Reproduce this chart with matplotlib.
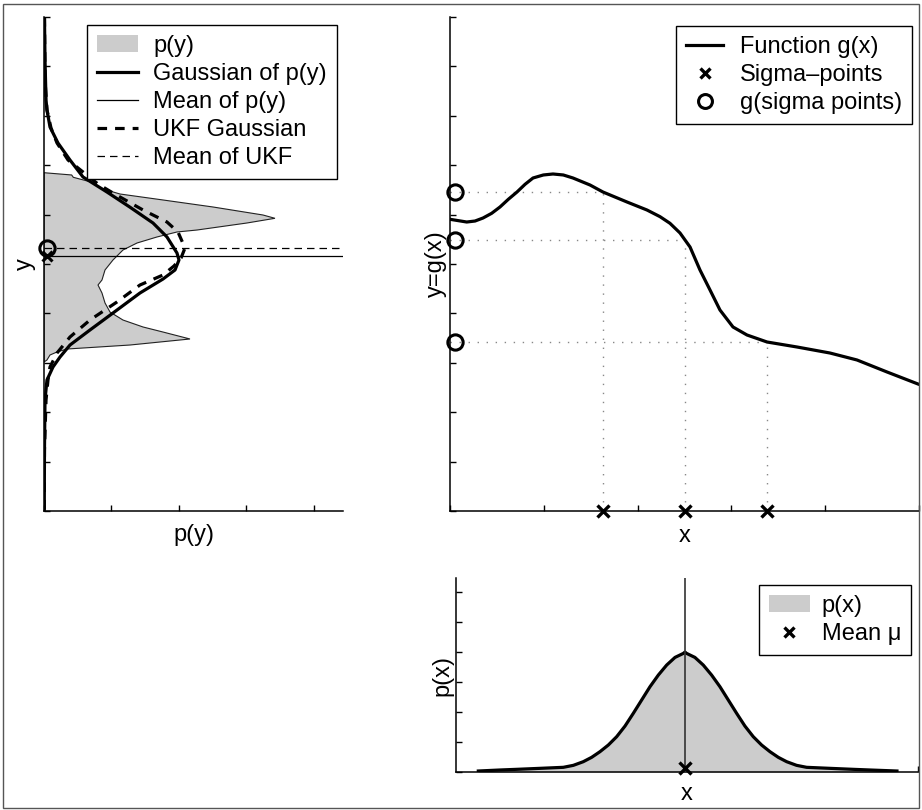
import matplotlib
matplotlib.use("Agg")
import matplotlib.pyplot as plt
from matplotlib.lines import Line2D
from matplotlib.patches import Patch, Rectangle

plt.rcParams['font.family'] = ['Liberation Sans', 'DejaVu Sans']
plt.rcParams['font.size'] = 17

# ---------------- data ----------------
# g(x) function (top right)
g_x = [0.000, 0.178, 0.267, 0.352, 0.444, 0.533, 0.622, 0.714, 0.800, 0.885, 0.995,
       1.098, 1.208, 1.311, 1.493, 1.631, 1.887, 2.100, 2.239, 2.345, 2.452, 2.559,
       2.665, 2.772, 2.878, 3.017, 3.166, 3.380, 3.699, 4.051, 4.339, 4.659, 4.989]
g_y = [5.905, 5.850, 5.870, 5.931, 6.026, 6.154, 6.310, 6.457, 6.613, 6.741, 6.802,
       6.822, 6.802, 6.741, 6.599, 6.457, 6.255, 6.093, 5.958, 5.824, 5.628, 5.344,
       4.879, 4.474, 4.069, 3.725, 3.563, 3.421, 3.320, 3.198, 3.057, 2.814, 2.571]

sigma_x = [1.631, 2.505, 3.380]
sigma_g = [6.457, 5.486, 3.421]

# p(y) histogram outline (left), x = density, y = value
py_dens = [0.000, 0.410, 0.434, 0.681, 0.874, 1.126, 1.763, 2.504, 3.244, 3.422,
           3.007, 2.267, 1.970, 1.674, 1.378, 1.170, 1.022, 0.904, 0.859, 0.800,
           0.859, 0.904, 0.978, 1.170, 1.467, 1.763, 2.163, 1.274, 0.341, 0.193,
           0.089, 0.044, 0.000]
py_val = [6.848, 6.802, 6.755, 6.666, 6.518, 6.417, 6.296, 6.154, 5.992, 5.925,
          5.830, 5.688, 5.648, 5.547, 5.425, 5.283, 5.081, 4.879, 4.676, 4.575,
          4.413, 4.211, 4.028, 3.866, 3.725, 3.623, 3.482, 3.360, 3.279, 3.219,
          3.158, 3.057, 3.016]

# Gaussian fitted to p(y)
gauss_dens = [0.007, 0.015, 0.030, 0.044, 0.089, 0.207, 0.385, 0.578, 0.933, 1.274,
              1.615, 1.822, 1.970, 2.000, 1.941, 1.763, 1.422, 1.022, 0.681, 0.385,
              0.237, 0.133, 0.044, 0.015, 0.007, 0.004]
gauss_val = [10.0, 9.13, 8.32, 8.117, 7.773, 7.449, 7.105, 6.761, 6.457, 6.150,
             5.830, 5.547, 5.223, 5.081, 4.879, 4.696, 4.413, 4.008, 3.664, 3.360,
             3.117, 2.915, 2.652, 2.247, 1.235, 0.0]

# UKF Gaussian
ukf_dens = [0.007, 0.015, 0.044, 0.104, 0.193, 0.356, 0.578, 0.800, 1.022, 1.467,
            1.822, 1.985, 2.089, 2.030, 1.926, 1.763, 1.422, 1.081, 0.681, 0.385,
            0.193, 0.089, 0.059, 0.030, 0.007, 0.004]
ukf_val = [10.0, 8.72, 8.117, 7.753, 7.449, 7.105, 6.862, 6.619, 6.437, 6.093,
           5.850, 5.648, 5.324, 5.121, 4.960, 4.777, 4.575, 4.231, 3.866, 3.522,
           3.198, 2.915, 2.652, 2.247, 1.235, 0.0]

mean_py = 5.16
mean_ukf = 5.32

# p(x) (bottom right)
px_x = [0.302, 0.533, 0.711, 0.959, 1.208, 1.315, 1.421, 1.510, 1.599, 1.688, 1.777,
        1.866, 1.954, 2.043, 2.132, 2.221, 2.310, 2.399, 2.488, 2.505,
        2.522, 2.611, 2.700, 2.789, 2.878, 2.967, 3.056, 3.144, 3.233, 3.322, 3.411,
        3.500, 3.589, 3.695, 3.802, 4.051, 4.299, 4.477, 4.765]
px_y = [0.033, 0.067, 0.089, 0.122, 0.156, 0.222, 0.344, 0.489, 0.678, 0.900, 1.178,
        1.533, 1.956, 2.400, 2.844, 3.233, 3.567, 3.822, 3.956, 4.000,
        3.956, 3.822, 3.567, 3.233, 2.844, 2.400, 1.956, 1.533, 1.178, 0.900, 0.678,
        0.489, 0.344, 0.222, 0.156, 0.122, 0.089, 0.067, 0.033]
mean_x = 2.505

# ---------------- figure ----------------
W, H = 922, 810
fig = plt.figure(figsize=(W / 100, H / 100), dpi=100)

def axrect(x0, y0, x1, y1):
    return [x0 / W, (H - y1) / H, (x1 - x0) / W, (y1 - y0) / H]

def style(ax):
    ax.spines['top'].set_visible(False)
    ax.spines['right'].set_visible(False)
    for s in ('left', 'bottom'):
        ax.spines[s].set_linewidth(1.1)
    ax.tick_params(direction='in', length=4, width=1, labelbottom=False, labelleft=False)

GRAY = '#cccccc'
LEG = dict(loc='upper right', borderaxespad=0, fancybox=False, framealpha=1,
           edgecolor='black', labelspacing=0.26, borderpad=0.42, numpoints=1, fontsize=17)

# Left axes: p(y)
axL = fig.add_axes(axrect(44, 17, 343, 511))
style(axL)
axL.fill(py_dens, py_val, facecolor=GRAY, edgecolor='#222222', lw=0.8, zorder=1)
axL.plot(gauss_dens, gauss_val, color='black', lw=2.3, zorder=3)
axL.plot(ukf_dens, ukf_val, color='black', lw=2.3, ls=(0, (3, 2.5)), zorder=3)
axL.axhline(mean_py, color='black', lw=0.9, zorder=2)
axL.axhline(mean_ukf, color='black', lw=0.9, ls=(0, (6, 4)), zorder=2)
axL.plot([0.045], [mean_ukf], 'o', mfc='none', mec='black', mew=2.2, ms=11, clip_on=False, zorder=5)
axL.plot([0.045], [mean_py], 'x', color='black', mew=2.2, ms=7, clip_on=False, zorder=5)
axL.set_xlim(0, 4.43)
axL.set_ylim(0, 10)
axL.set_xticks([0, 1, 2, 3, 4])
axL.set_yticks(range(0, 11))
axL.set_xlabel('p(y)', labelpad=9)
axL.set_ylabel('y', labelpad=6)
hL = [Patch(facecolor=GRAY, edgecolor='none'),
      Line2D([], [], color='black', lw=2.3),
      Line2D([], [], color='black', lw=0.9),
      Line2D([], [], color='black', lw=2.3, ls=(0, (3, 2.5))),
      Line2D([], [], color='black', lw=0.9, ls=(0, (6, 4)))]
legL = axL.legend(hL, ['p(y)', 'Gaussian of p(y)', 'Mean of p(y)', 'UKF Gaussian', 'Mean of UKF'],
                  bbox_to_anchor=(0.980, 0.984), handlelength=1.75, handleheight=0.75,
                  handletextpad=0.65, **LEG)
legL.get_frame().set_linewidth(1)

# Top right: g(x)
axT = fig.add_axes(axrect(450, 17, 919, 511))
style(axT)
axT.plot(g_x, g_y, color='black', lw=2.3, zorder=3)
for sx, sg in zip(sigma_x, sigma_g):
    axT.plot([0, sx], [sg, sg], color='#888888', lw=1, ls=(0, (1, 5.5)), zorder=1)
    axT.plot([sx, sx], [0, sg], color='#888888', lw=1, ls=(0, (1, 5.5)), zorder=1)
axT.plot(sigma_x, [0] * len(sigma_x), 'x', color='black', mew=2.4, ms=8, clip_on=False, zorder=5)
axT.plot([0.05] * len(sigma_g), sigma_g, 'o', mfc='none', mec='black', mew=2.2, ms=11,
         clip_on=False, zorder=5)
axT.set_xlim(0, 5)
axT.set_ylim(0, 10)
axT.set_xticks(range(0, 6))
axT.set_yticks(range(0, 11))
axT.set_xlabel('x', labelpad=10)
axT.set_ylabel('y=g(x)', labelpad=2)
hT = [Line2D([], [], color='black', lw=2.3),
      Line2D([], [], color='black', ls='none', marker='x', mew=2.4, ms=7),
      Line2D([], [], color='black', ls='none', marker='o', mfc='none', mew=2.2, ms=10)]
legT = axT.legend(hT, ['Function g(x)', 'Sigma\u2013points', 'g(sigma points)'],
                  bbox_to_anchor=(0.985, 0.982), handlelength=1.6, handletextpad=0.7, **LEG)
legT.get_frame().set_linewidth(1)

# Bottom right: p(x)
axB = fig.add_axes(axrect(456, 578, 918, 772))
style(axB)
axB.fill_between(px_x, 0, px_y, color=GRAY, lw=0, zorder=1)
axB.plot(px_x, px_y, color='black', lw=2.3, zorder=3)
axB.axvline(mean_x, color='#333333', lw=1.2, zorder=4)
axB.plot([mean_x], [0.13], 'x', color='black', mew=2.4, ms=8, clip_on=False, zorder=5)
axB.set_xlim((456 - 450) / 93.8, (918 - 450) / 93.8)
axB.set_ylim(0, 6.47)
axB.set_xticks([(918 - 450) / 93.8])
axB.set_yticks(range(0, 7))
axB.set_xlabel('x', labelpad=8)
axB.set_ylabel('p(x)', labelpad=2)
hB = [Patch(facecolor=GRAY, edgecolor='none'),
      Line2D([], [], color='black', ls='none', marker='x', mew=2.4, ms=7)]
legB = axB.legend(hB, ['p(x)', 'Mean \u03bc'], bbox_to_anchor=(0.985, 0.964),
                  handlelength=1.75, handleheight=0.75, handletextpad=0.5, **LEG)
legB.get_frame().set_linewidth(1)

# figure border
fig.patches.append(Rectangle((3 / W, (H - 808) / H), (919 - 3) / W, (808 - 4) / H,
                             transform=fig.transFigure, fill=False, edgecolor='#555555', lw=1))

fig.savefig('out.png', dpi=100)
